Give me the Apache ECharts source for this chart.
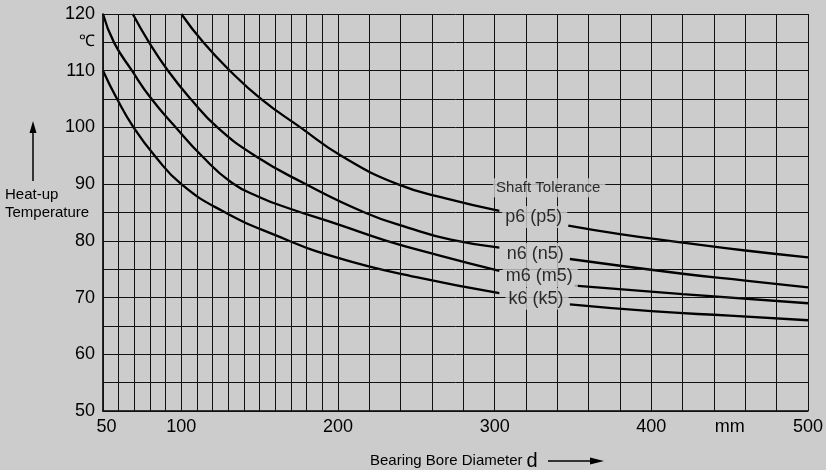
<!DOCTYPE html>
<html><head><meta charset="utf-8">
<script src="https://cdn.jsdelivr.net/npm/echarts@6/dist/echarts.min.js"></script>
<style>html,body{margin:0;padding:0;background:#cccccc;}#c{width:826px;height:470px;}</style>
</head><body><div id="c"></div>
<script>
// ---- data ----
const xTickValues = [50, 100, 200, 300, 400, 450, 500];
const xTickText = {450: 'mm'};
const yTicks = [50, 60, 70, 80, 90, 100, 110, 120];
const vGrid = [50,60,70,80,90,100,110,120,130,140,150,160,170,180,190,200,220,240,260,280,300,320,340,360,380,400,420,440,460,480,500];
const hGrid = [50,55,60,65,70,75,80,85,90,95,100,105,110,115,120];

// null = break in the curve (hidden behind its label)
const p6 = [[100,120],[114,115],[131,110],[151,105],[176,100],[202,95],[238,90],[270,87.4],[303,85.3],null,[347,82.7],[380,81.2],[420,79.7],[460,78.3],[500,77.1]];
const n6 = [[69,120],[79.4,115],[91.5,110],[106,105],[123,100],[147,95],[178,90.2],[217,85],[245,82.3],[272,80.2],[303,78.8],null,[348,76.8],[420,74.2],[460,73.0],[500,71.8]];
const m6 = [[50,120],[57,115],[68.5,110],[81,105],[96.5,100],[113,95],[132,90.3],[150,87.7],[168,85.8],[200,82.9],[230,80.1],[265,77.4],[303,74.7],null,[351,72.1],[420,70.6],[500,69.0]];
const k6 = [[50,110],[59,105],[69.5,100],[83,95],[100,90],[126,85.3],[160,81],[200,77],[250,73.6],[303,70.8],null,[348,68.8],[400,67.6],[450,66.8],[500,66.0]];

const curveLabels = ['Shaft Tolerance', 'p6 (p5)', 'n6 (n5)', 'm6 (m5)', 'k6 (k5)'];
const labelAnchors = [[299, 89.35], [304.8, 84.2], [305.8, 77.7], [305.2, 73.8], [306.9, 69.8]];
const labelSizes = [15, 18, 18, 18, 18];

// ---- chart ----
const chart = echarts.init(document.getElementById('c'), null, {renderer: 'canvas'});
const FONT = '"Liberation Sans", Arial, Helvetica, sans-serif';
const BG = '#cccccc';
const fix = arr => arr.map(p => p === null ? ['-', '-'] : p);

const curve = (name, d) => ({
  name, type: 'line', data: fix(d), smooth: 0.5, showSymbol: false, symbol: 'none',
  connectNulls: false, z: 3, silent: true,
  lineStyle: {color: '#000', width: 2.3}
});

chart.setOption({
  backgroundColor: BG,
  animation: false,
  grid: {left: 103, right: 16, top: 14, bottom: 59},
  xAxis: {
    type: 'value', min: 50, max: 500,
    axisLine: {show: true, lineStyle: {color: '#000', width: 1.6}},
    axisTick: {show: false},
    splitLine: {show: false},
    axisLabel: {
      customValues: xTickValues,
      formatter: v => v === 50 ? '{s|50}' : (xTickText[v] || String(v)),
      rich: {s: {padding: [0, 0, 0, 7], fontSize: 18, fontFamily: FONT, color: '#000'}},
      color: '#000', fontSize: 18, fontFamily: FONT, margin: 7
    }
  },
  yAxis: {
    type: 'value', min: 50, max: 120, interval: 10,
    axisLine: {show: true, lineStyle: {color: '#000', width: 1.6}},
    axisTick: {show: false},
    splitLine: {show: false},
    axisLabel: {color: '#000', fontSize: 18, fontFamily: FONT, margin: 8}
  },
  series: [
    {
      type: 'line', data: [], silent: true, z: 1,
      markLine: {
        silent: true, symbol: ['none', 'none'], animation: false,
        label: {show: false},
        lineStyle: {color: '#111', width: 1, type: 'solid'},
        data: vGrid.map(v => ({xAxis: v})).concat(hGrid.map(v => ({yAxis: v})))
      }
    },
    curve('p6', p6), curve('n6', n6), curve('m6', m6), curve('k6', k6),
    {
      type: 'scatter', symbolSize: 0, z: 6, silent: true,
      data: labelAnchors.map((p, i) => ({value: p, name: curveLabels[i], label: {fontSize: labelSizes[i]}})),
      label: {
        show: true, position: 'inside', align: 'left', verticalAlign: 'middle',
        formatter: p => p.name,
        color: '#000', fontFamily: FONT,
        backgroundColor: BG, padding: [2, 5, 2, 3]
      },
      labelLayout: {hideOverlap: false}
    }
  ],
  graphic: [
    {type: 'text', left: 79, top: 34, style: {text: '℃', font: '16px ' + FONT, fill: '#000'}},
    {type: 'text', left: 5, top: 186, style: {text: 'Heat-up\nTemperature', font: '15px ' + FONT, fill: '#000', lineHeight: 18}},
    {type: 'line', shape: {x1: 33, y1: 181, x2: 33, y2: 132}, style: {stroke: '#000', lineWidth: 1.5}},
    {type: 'polygon', shape: {points: [[33, 121], [29.5, 133], [36.5, 133]]}, style: {fill: '#000'}},
    {type: 'text', left: 370, top: 451, style: {rich: {a: {font: '15px ' + FONT, fill: '#000'}, b: {font: '20px ' + FONT, fill: '#000', padding: [0, 0, 0, 4]}}, text: '{a|Bearing Bore Diameter}{b|d}'}},
    {type: 'line', shape: {x1: 548, y1: 461, x2: 594, y2: 461}, style: {stroke: '#000', lineWidth: 1.5}},
    {type: 'polygon', shape: {points: [[604, 461], [590, 457.5], [590, 464.5]]}, style: {fill: '#000'}}
  ]
});
</script></body></html>
